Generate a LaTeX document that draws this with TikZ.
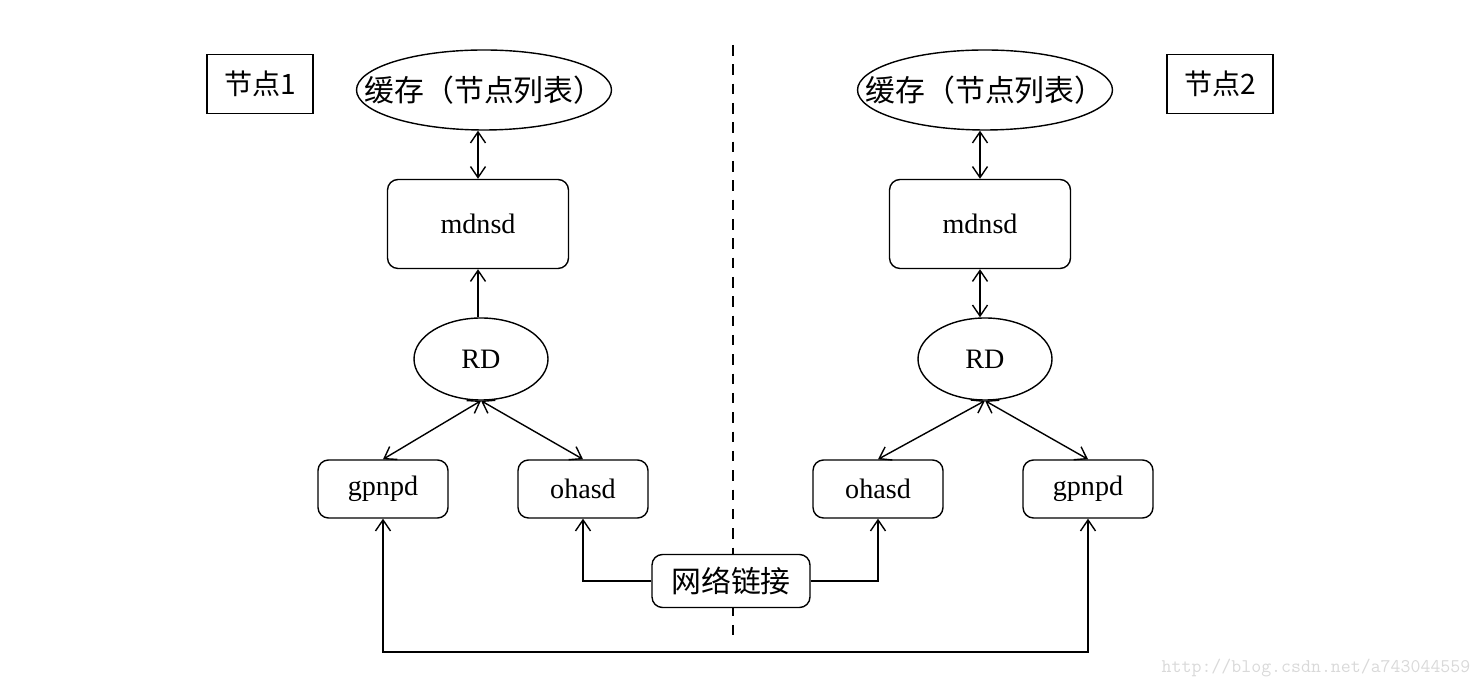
\documentclass[tikz,border=0pt]{standalone}
\usepackage{fontspec}
\setmainfont{Liberation Serif}
\newfontfamily\cjk{Noto Sans CJK SC}
\usetikzlibrary{arrows.meta,shapes.geometric}
\tikzset{
    every node/.style={align=center,font=\fontsize{16}{19}\selectfont},
    every path/.style={line width=0.8pt},
    label box/.style={draw,rectangle,minimum width=2.12cm,minimum height=1.18cm,fill=white},
    daemon/.style={draw,rectangle,rounded corners=6pt,minimum width=2.6cm,minimum height=1.16cm,fill=white},
    service/.style={draw,rectangle,rounded corners=6pt,minimum width=3.62cm,minimum height=1.78cm,fill=white},
    store/.style={draw,ellipse,inner sep=0pt,fill=white},
    cache/.style={store,minimum width=5.1cm,minimum height=1.6cm},
}
\newcommand{\cachetext}{\cjk\fontsize{17}{20}\selectfont 缓存（节点列表）}

\begin{document}
\begin{tikzpicture}[>={Straight Barb[length=2.2mm,width=3mm]}]
                \useasboundingbox (0,0) rectangle (29.62,13.8);

                % dividing line between the two nodes
                \coordinate (dtop) at (14.66, 12.9);
                \coordinate (dbot) at (14.66, 1.0);
                \draw[dashed,dash pattern=on 6pt off 5pt] (dtop) -- (dbot);

                % node 1
                \node[label box] (lbl1) at (5.20, 12.12) {\cjk 节点1};
                \node[cache,label=center:{\cachetext}] (cache1) at (9.68, 12.0) {};
                \node[service] (mdnsd1) at (9.56, 9.32) {mdnsd};
                \node[store,minimum width=2.68cm,minimum height=1.64cm] (rd1) at (9.62, 6.62) {RD};
                \node[daemon] (gpnpd1) at (7.66, 4.02) {gpnpd};
                \node[daemon] (ohasd1) at (11.66, 4.02) {ohasd};

                % node 2
                \node[label box] (lbl2) at (24.40, 12.12) {\cjk 节点2};
                \node[cache,label=center:{\cachetext}] (cache2) at (19.70, 12.0) {};
                \node[service] (mdnsd2) at (19.60, 9.32) {mdnsd};
                \node[store,minimum width=2.68cm,minimum height=1.64cm] (rd2) at (19.70, 6.62) {RD};
                \node[daemon] (ohasd2) at (17.56, 4.02) {ohasd};
                \node[daemon] (gpnpd2) at (21.76, 4.02) {gpnpd};

                \node[daemon,minimum width=3.16cm,minimum height=1.06cm] (net) at (14.62, 2.18) {\cjk\fontsize{17}{20}\selectfont 网络链接};

                \draw[<->] (cache1.south -| mdnsd1) -- (mdnsd1.north);
                \draw[->] (rd1.north -| mdnsd1) -- (mdnsd1.south);
                \draw[<->] (rd1.south) -- (gpnpd1.north);
                \draw[<->] (rd1.south) -- (ohasd1.north);

                \draw[<->] (cache2.south -| mdnsd2) -- (mdnsd2.north);
                \draw[<->] (mdnsd2.south) -- (rd2.north -| mdnsd2);
                \draw[<->] (rd2.south) -- (ohasd2.north);
                \draw[<->] (rd2.south) -- (gpnpd2.north);

                \draw[->] (net.west) -| (ohasd1.south);
                \draw[->] (net.east) -| (ohasd2.south);

                \coordinate (bus) at (7.66, 0.76);
                \draw[<->] (gpnpd1.south) -- (bus) -| (gpnpd2.south);

                \node[text=black!15,font=\fontsize{11}{13}\ttfamily] (mark) at (26.32, 0.44) {http://blog.csdn.net/a743044559};
            \end{tikzpicture}
\end{document}
